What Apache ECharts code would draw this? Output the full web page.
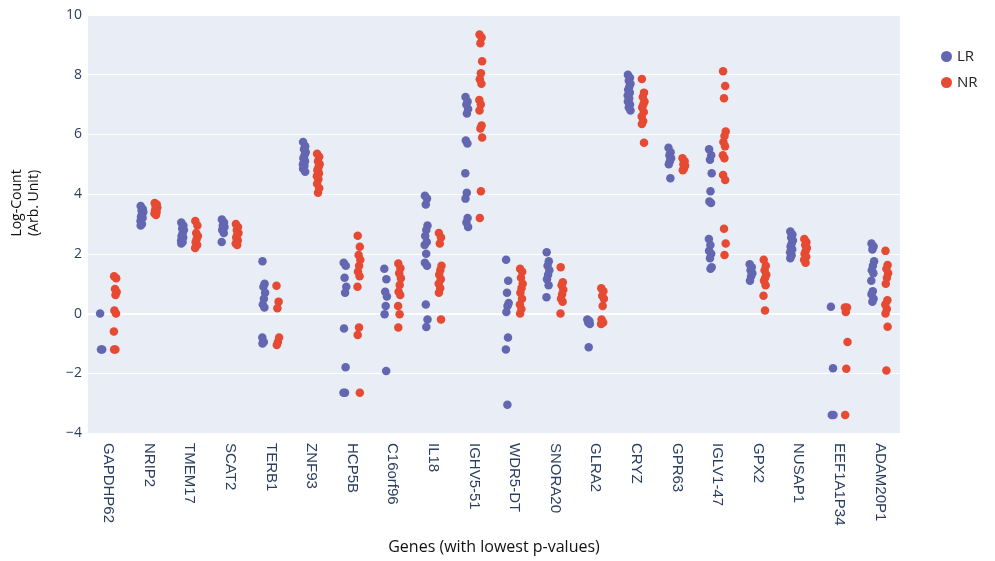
<!DOCTYPE html>
<html>
<head>
<meta charset="utf-8">
<script src="https://cdn.jsdelivr.net/npm/echarts@6/dist/echarts.min.js"></script>
<style>
  html, body { margin: 0; padding: 0; background: #fff; }
  #chart { width: 995px; height: 561px; }
</style>
</head>
<body>
<div id="chart"></div>
<script>
// Genes on the x axis
const genes = ['GAPDHP62', 'NRIP2', 'TMEM17', 'SCAT2', 'TERB1', 'ZNF93', 'HCP5B', 'C16orf96', 'IL18',
  'IGHV5-51', 'WDR5-DT', 'SNORA20', 'GLRA2', 'CRYZ', 'GPR63', 'IGLV1-47', 'GPX2', 'NUSAP1',
  'EEF1A1P34', 'ADAM20P1'];

// Log-counts per gene, LR group
const lrValues = [
  [0, -1.2, -1.2],
  [3.6, 3.5, 3.45, 3.4, 3.3, 3.25, 3.2, 3.1, 3.0, 2.95],
  [3.05, 2.95, 2.85, 2.8, 2.7, 2.6, 2.55, 2.45, 2.4, 2.35],
  [3.15, 3.05, 2.95, 2.9, 2.85, 2.8, 2.7, 2.4],
  [1.75, 1.0, 0.9, 0.7, 0.5, 0.3, 0.2, -0.8, -0.95, -1.0],
  [5.75, 5.6, 5.5, 5.4, 5.3, 5.2, 5.1, 5.0, 4.95, 4.85, 4.75],
  [1.7, 1.6, 1.2, 0.9, 0.7, -0.5, -1.8, -2.65, -2.65],
  [1.5, 1.15, 0.73, 0.57, 0.25, -0.02, -1.92],
  [3.95, 3.85, 3.65, 2.95, 2.8, 2.6, 2.4, 2.3, 2.0, 1.7, 1.6, 0.3, -0.2, -0.45],
  [7.25, 7.1, 7.0, 6.85, 6.7, 5.8, 5.7, 4.7, 4.05, 3.85, 3.2, 3.05, 2.9],
  [1.8, 1.1, 0.7, 0.35, 0.25, 0.05, -0.8, -1.2, -3.05],
  [2.05, 1.75, 1.6, 1.45, 1.3, 1.15, 0.95, 0.55],
  [-0.2, -0.25, -0.3, -0.35, -1.13],
  [8.0, 7.9, 7.8, 7.7, 7.6, 7.5, 7.4, 7.3, 7.2, 7.1, 7.0, 6.9, 6.8],
  [5.55, 5.4, 5.3, 5.2, 5.1, 5.0, 4.53],
  [5.5, 5.3, 5.15, 4.7, 4.1, 3.75, 3.7, 2.5, 2.3, 2.1, 2.0, 1.85, 1.55, 1.5],
  [1.65, 1.55, 1.45, 1.35, 1.25, 1.1],
  [2.75, 2.65, 2.55, 2.45, 2.35, 2.25, 2.15, 2.05, 1.95, 1.85],
  [0.23, -1.83, -3.4, -3.4],
  [2.35, 2.25, 2.15, 1.75, 1.6, 1.45, 1.35, 1.1, 0.75, 0.65, 0.5, 0.4]
];

// Log-counts per gene, NR group
const nrValues = [
  [1.25, 1.18, 0.82, 0.72, 0.62, 0.1, 0.0, -0.6, -1.2, -1.2],
  [3.7, 3.65, 3.6, 3.55, 3.5, 3.45, 3.4, 3.35, 3.3],
  [3.1, 2.95, 2.7, 2.6, 2.5, 2.4, 2.3, 2.2],
  [3.0, 2.9, 2.8, 2.7, 2.65, 2.55, 2.45, 2.35, 2.3],
  [0.93, 0.4, 0.18, -0.8, -0.95, -1.05],
  [5.35, 5.25, 5.1, 5.0, 4.9, 4.8, 4.7, 4.6, 4.5, 4.35, 4.2, 4.05],
  [2.61, 2.24, 1.96, 1.8, 1.6, 1.4, 1.25, 0.9, -0.47, -0.72, -2.65],
  [1.68, 1.52, 1.35, 1.18, 0.96, 0.73, 0.62, 0.25, -0.02, -0.47],
  [2.7, 2.55, 2.35, 1.6, 1.45, 1.3, 1.15, 1.0, 0.85, 0.7, -0.2],
  [9.35, 9.25, 9.05, 8.45, 8.05, 7.85, 7.7, 7.15, 7.0, 6.8, 6.3, 6.2, 5.9, 4.1, 3.2],
  [1.5, 1.4, 1.2, 1.0, 0.85, 0.7, 0.5, 0.3, 0.15, 0.0],
  [1.55, 1.05, 0.95, 0.8, 0.65, 0.5, 0.4, 0.0],
  [0.85, 0.75, 0.6, 0.5, 0.25, -0.2, -0.3, -0.35],
  [7.86, 7.4, 7.25, 7.1, 7.0, 6.9, 6.75, 6.6, 6.45, 6.35, 5.72],
  [5.2, 5.1, 5.0, 4.95, 4.85, 4.8],
  [8.12, 7.62, 7.21, 6.1, 5.95, 5.75, 5.6, 5.3, 5.2, 4.64, 4.47, 2.84, 2.35, 1.96],
  [1.8, 1.6, 1.45, 1.3, 1.2, 1.1, 0.95, 0.6, 0.1],
  [2.5, 2.4, 2.3, 2.2, 2.1, 2.0, 1.9, 1.8, 1.7],
  [0.2, 0.2, 0.05, -0.95, -1.85, -3.4],
  [2.1, 1.63, 1.5, 1.35, 1.2, 1.0, 0.45, 0.3, 0.15, 0.0, -0.44, -1.91]
];

// small horizontal spread of the strip points (pixels)
const spread = [-1.2, 0.9, -0.3, 1.4, 0.2, -0.9, 0.7, -1.4, 0.1];

function stripData(values, side) {
  const out = [];
  values.forEach((list, gi) => {
    list.forEach((v, k) => {
      out.push({
        value: [genes[gi], v],
        symbolOffset: [side * 7 + spread[k % spread.length], 0]
      });
    });
  });
  return out;
}

const tickColor = '#2a3f5f';
const chart = echarts.init(document.getElementById('chart'), null, { renderer: 'canvas' });

chart.setOption({
  animation: false,
  backgroundColor: '#ffffff',
  grid: {
    left: 88, right: 95, top: 15, bottom: 128,
    show: true, backgroundColor: '#E9EDF5', borderWidth: 0
  },
  legend: {
    orient: 'vertical',
    left: 936, top: 44,
    itemWidth: 11, itemHeight: 11, itemGap: 11,
    icon: 'circle',
    textStyle: { fontFamily: 'Open Sans', fontSize: 15, color: '#222' },
    data: ['LR', 'NR']
  },
  xAxis: {
    type: 'category',
    data: genes,
    boundaryGap: true,
    axisLine: { show: false },
    axisTick: { show: false },
    splitLine: { show: false },
    axisLabel: {
      rotate: -90, margin: 10, interval: 0,
      fontFamily: 'Liberation Sans', fontSize: 15, color: tickColor
    },
    name: 'Genes (with lowest p-values)',
    nameLocation: 'middle',
    nameGap: 106,
    nameTextStyle: { fontFamily: 'Open Sans', fontSize: 16, color: '#111' }
  },
  yAxis: {
    type: 'value',
    min: -4, max: 10, interval: 2,
    axisLine: { show: false },
    axisTick: { show: false },
    splitLine: { lineStyle: { color: '#ffffff', width: 1 } },
    axisLabel: {
      margin: 6, fontFamily: 'Open Sans', fontSize: 14, color: tickColor,
      formatter: v => (v < 0 ? '\u2212' + Math.abs(v) : String(v))
    }
  },
  graphic: [{
    type: 'text',
    rotation: Math.PI / 2,
    x: 26, y: 203,
    style: {
      text: 'Log-Count\n(Arb. Unit)',
      fontFamily: 'Open Sans', fontSize: 14, fill: '#111',
      align: 'center', verticalAlign: 'middle', lineHeight: 17
    }
  }],
  series: [
    {
      name: 'LR', type: 'scatter',
      symbol: 'circle', symbolSize: 8.5,
      itemStyle: { color: '#6366B0', opacity: 1 },
      data: stripData(lrValues, -1),
      markLine: {
        silent: true, symbol: 'none', label: { show: false },
        lineStyle: { color: '#ffffff', width: 2, type: 'solid' },
        data: [{ yAxis: 0 }],
        z: 1
      },
      z: 3
    },
    {
      name: 'NR', type: 'scatter',
      symbol: 'circle', symbolSize: 8.5,
      itemStyle: { color: '#E64A33', opacity: 1 },
      data: stripData(nrValues, 1),
      z: 3
    }
  ]
});
</script>
</body>
</html>
